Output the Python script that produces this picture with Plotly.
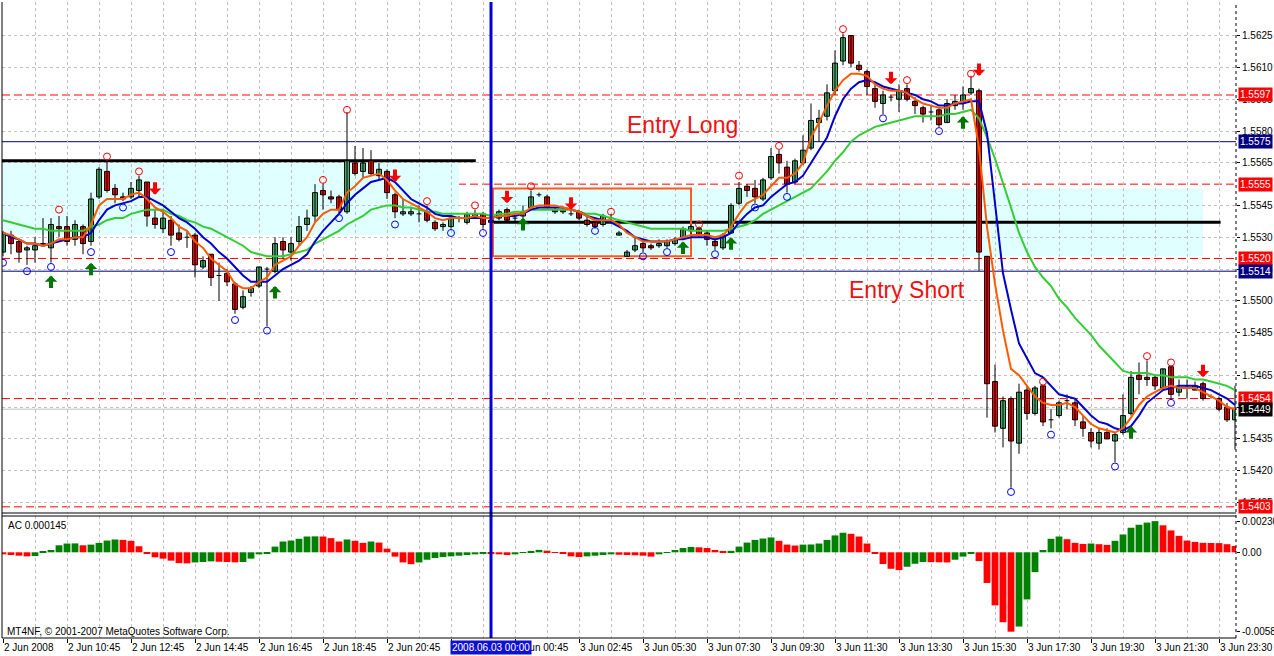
import plotly.graph_objects as go

FONT = "Tahoma, 'Liberation Sans', Arial, sans-serif"

# ---------------- data: M15 bars (index 0..154) ----------------
opens = [
1.5523,1.5531,1.5528,1.5524,1.5524,1.5527,1.5525,1.5535,1.5535,1.5529,
1.5535,1.5528,1.5549,1.5561,1.5553,1.5549,1.5549,1.5552,1.5556,1.5539,
1.5534,1.5538,1.5532,1.5530,1.5531,1.5516,1.5522,1.5512,1.5513,1.5508,
1.5497,1.5504,1.5507,1.5515,1.5514,1.5528,1.5523,1.5528,1.5536,1.5540,
1.5552,1.5549,1.5549,1.5542,1.5565,1.5561,1.5566,1.5559,1.5561,1.5550,
1.5541,1.5541,1.5541,1.5542,1.5537,1.5535,1.5535,1.5539,1.5537,1.5540,
1.5541,1.5538,1.5539,1.5543,1.5539,1.5540,1.5544,1.5550,1.5549,1.5543,
1.5543,1.5541,1.5542,1.5538,1.5537,1.5536,1.5539,1.5531,1.5521,1.5524,
1.5527,1.5526,1.5526,1.5526,1.5527,1.5530,1.5533,1.5534,1.5532,1.5528,
1.5525,1.5532,1.5546,1.5554,1.5553,1.5548,1.5558,1.5569,1.5563,1.5556,
1.5565,1.5572,1.5584,1.5587,1.5599,1.5613,1.5625,1.5611,1.5608,1.5600,
1.5593,1.5596,1.5595,1.5600,1.5594,1.5591,1.5589,1.5590,1.5584,1.5592,
1.5594,1.5598,1.5599,1.5521,1.5462,1.5440,1.5454,1.5433,1.5458,1.5447,
1.5460,1.5444,1.5446,1.5453,1.5452,1.5443,1.5438,1.5433,1.5438,1.5434,
1.5438,1.5447,1.5465,1.5464,1.5464,1.5459,1.5469,1.5457,1.5460,1.5458,
1.5461,1.5455,1.5454,1.5450,1.5444]

highs = [
1.5533,1.5533,1.5529,1.5526,1.5530,1.5539,1.5539,1.5540,1.5540,1.5538,
1.5536,1.5551,1.5563,1.5566,1.5555,1.5551,1.5556,1.5559,1.5556,1.5543,
1.5543,1.5540,1.5536,1.5533,1.5532,1.5521,1.5522,1.5518,1.5515,1.5509,
1.5505,1.5507,1.5516,1.5516,1.5530,1.5530,1.5530,1.5540,1.5543,1.5555,
1.5555,1.5552,1.5550,1.5589,1.5573,1.5572,1.5571,1.5565,1.5562,1.5551,
1.5548,1.5544,1.5545,1.5545,1.5538,1.5537,1.5540,1.5540,1.5542,1.5543,
1.5542,1.5540,1.5543,1.5544,1.5540,1.5545,1.5552,1.5551,1.5550,1.5544,
1.5544,1.5543,1.5543,1.5540,1.5538,1.5541,1.5541,1.5533,1.5524,1.5530,
1.5529,1.5527,1.5529,1.5529,1.5530,1.5535,1.5536,1.5535,1.5533,1.5530,
1.5532,1.5546,1.5556,1.5555,1.5557,1.5558,1.5572,1.5571,1.5566,1.5567,
1.5578,1.5593,1.5590,1.5602,1.5618,1.5626,1.5625,1.5613,1.5609,1.5602,
1.5599,1.5597,1.5602,1.5602,1.5596,1.5592,1.5592,1.5591,1.5595,1.5597,
1.5601,1.5606,1.5600,1.5521,1.5470,1.5455,1.5455,1.5461,1.5460,1.5460,
1.5460,1.5449,1.5453,1.5456,1.5454,1.5446,1.5440,1.5440,1.5440,1.5438,
1.5456,1.5467,1.5471,1.5472,1.5465,1.5468,1.5469,1.5463,1.5463,1.5462,
1.5462,1.5456,1.5455,1.5452,1.5460]

lows = [
1.5521,1.5522,1.5518,1.5517,1.5518,1.5526,1.5518,1.5530,1.5526,1.5526,
1.5522,1.5526,1.5548,1.5551,1.5546,1.5547,1.5548,1.5549,1.5535,1.5534,
1.5532,1.5526,1.5528,1.5525,1.5511,1.5515,1.5507,1.5500,1.5507,1.5494,
1.5496,1.5502,1.5506,1.5488,1.5513,1.5520,1.5519,1.5526,1.5533,1.5537,
1.5543,1.5546,1.5541,1.5541,1.5559,1.5558,1.5559,1.5557,1.5548,1.5539,
1.5540,1.5540,1.5537,1.5537,1.5533,1.5533,1.5534,1.5537,1.5536,1.5539,
1.5534,1.5536,1.5538,1.5537,1.5537,1.5538,1.5544,1.5549,1.5544,1.5541,
1.5541,1.5540,1.5538,1.5535,1.5534,1.5535,1.5538,1.5531,1.5521,1.5523,
1.5523,1.5524,1.5525,1.5525,1.5526,1.5529,1.5531,1.5530,1.5526,1.5524,
1.5524,1.5532,1.5545,1.5549,1.5546,1.5547,1.5557,1.5560,1.5551,1.5555,
1.5564,1.5571,1.5575,1.5585,1.5597,1.5611,1.5610,1.5608,1.5597,1.5591,
1.5588,1.5594,1.5589,1.5594,1.5588,1.5584,1.5585,1.5582,1.5584,1.5590,
1.5590,1.5597,1.5514,1.5445,1.5438,1.5431,1.5412,1.5428,1.5444,1.5446,
1.5441,1.5440,1.5445,1.5449,1.5441,1.5436,1.5431,1.5430,1.5435,1.5424,
1.5437,1.5446,1.5456,1.5460,1.5458,1.5458,1.5454,1.5455,1.5454,1.5458,
1.5453,1.5454,1.5448,1.5443,1.5430]

closes = [
1.5532,1.5527,1.5523,1.5525,1.5526,1.5526,1.5536,1.5534,1.5528,1.5536,
1.5527,1.5548,1.5562,1.5552,1.5550,1.5548,1.5553,1.5557,1.5540,1.5536,
1.5539,1.5531,1.5529,1.5530,1.5517,1.5519,1.5511,1.5512,1.5509,1.5496,
1.5502,1.5506,1.5516,1.5515,1.5527,1.5524,1.5527,1.5535,1.5539,1.5551,
1.5550,1.5548,1.5543,1.5566,1.5560,1.5565,1.5560,1.5562,1.5551,1.5542,
1.5542,1.5542,1.5541,1.5538,1.5534,1.5536,1.5539,1.5539,1.5541,1.5541,
1.5536,1.5537,1.5542,1.5538,1.5539,1.5542,1.5549,1.5550,1.5544,1.5542,
1.5542,1.5541,1.5539,1.5536,1.5535,1.5540,1.5539,1.5532,1.5523,1.5526,
1.5525,1.5525,1.5527,1.5528,1.5529,1.5534,1.5535,1.5531,1.5529,1.5526,
1.5531,1.5545,1.5553,1.5552,1.5549,1.5557,1.5568,1.5565,1.5555,1.5566,
1.5571,1.5585,1.5586,1.5598,1.5612,1.5624,1.5612,1.5609,1.5601,1.5594,
1.5597,1.5596,1.5599,1.5595,1.5592,1.5588,1.5589,1.5583,1.5593,1.5594,
1.5597,1.5600,1.5523,1.5461,1.5441,1.5453,1.5434,1.5457,1.5447,1.5459,
1.5443,1.5444,1.5452,1.5453,1.5444,1.5440,1.5434,1.5438,1.5435,1.5437,
1.5446,1.5464,1.5463,1.5463,1.5460,1.5468,1.5456,1.5459,1.5460,1.5460,
1.5454,1.5455,1.5449,1.5444,1.5449]

ma_orange = [
1.5532,1.5531,1.5529,1.5527,1.5527,1.5526,1.5527,1.5529,1.5529,1.5530,
1.5530,1.5536,1.5545,1.5548,1.5548,1.5548,1.5550,1.5551,1.5548,1.5544,
1.5542,1.5539,1.5535,1.5533,1.5528,1.5525,1.5520,1.5517,1.5514,1.5508,
1.5506,1.5506,1.5509,1.5511,1.5517,1.5519,1.5521,1.5526,1.5530,1.5537,
1.5541,1.5543,1.5543,1.5551,1.5554,1.5558,1.5559,1.5560,1.5557,1.5552,
1.5548,1.5546,1.5544,1.5542,1.5539,1.5538,1.5539,1.5539,1.5539,1.5540,
1.5539,1.5539,
1.5540,1.5540,1.5541,1.5541,1.5544,1.5545,1.5545,1.5545,1.5544,1.5543,
1.5542,1.5540,1.5538,1.5538,1.5538,1.5536,1.5532,1.5530,1.5528,1.5528,
1.5528,1.5528,1.5529,1.5530,1.5531,1.5531,1.5531,1.5530,1.5531,1.5535,
1.5541,1.5546,1.5548,
1.5550,1.5554,1.5558,1.5558,1.5560,1.5565,1.5577,1.5584,1.5592,1.5599,
1.5604,1.5607,1.5607,1.5606,1.5602,1.5600,1.5599,1.5599,1.5598,1.5595,
1.5593,1.5592,1.5591,1.5591,1.5593,1.5594,1.5595,1.5572,
1.5535,1.5508,1.5486,1.5468,1.5465,1.5460,1.5455,1.5452,1.5451,1.5451,
1.5452,1.5450,1.5446,1.5442,1.5440,1.5439,1.5438,1.5440,1.5445,1.5451,
1.5455,1.5457,1.5459,1.5460,1.5459,1.5459,1.5459,1.5457,1.5455,1.5453,
1.5450,1.5449]

ma_blue = [
1.5532,1.5530,1.5529,1.5527,1.5527,1.5526,1.5527,1.5528,1.5529,1.5530,
1.5530,1.5532,1.5538,1.5543,1.5545,1.5546,1.5547,1.5549,1.5549,1.5547,
1.5545,1.5542,1.5539,1.5537,1.5534,1.5530,1.5527,1.5523,1.5520,1.5516,
1.5512,1.5509,1.5509,1.5509,1.5512,1.5515,1.5517,1.5519,1.5522,1.5528,
1.5533,1.5537,1.5541,1.5546,1.5550,1.5553,1.5556,1.5557,1.5558,1.5556,
1.5552,1.5548,1.5546,1.5544,1.5541,1.5540,1.5540,1.5539,1.5539,1.5539,
1.5539,1.5539,
1.5540,1.5540,1.5540,1.5541,1.5543,1.5544,1.5544,1.5544,1.5544,1.5543,
1.5542,1.5540,1.5539,1.5538,1.5537,1.5535,1.5533,1.5530,1.5529,1.5528,
1.5528,1.5528,1.5529,1.5529,1.5530,1.5530,1.5530,1.5529,1.5530,1.5532,
1.5537,1.5541,1.5544,
1.5545,1.5549,1.5552,1.5555,1.5556,1.5559,1.5565,1.5571,1.5577,1.5587,
1.5595,1.5600,1.5603,1.5604,1.5603,1.5601,1.5600,1.5599,1.5598,1.5597,
1.5595,1.5594,1.5592,1.5592,1.5593,1.5593,1.5594,1.5594,
1.5579,1.5545,1.5513,1.5496,1.5480,1.5473,1.5466,1.5464,1.5460,1.5456,
1.5455,1.5454,1.5450,1.5446,1.5443,1.5442,1.5440,1.5439,1.5441,1.5446,
1.5452,1.5455,1.5458,1.5459,1.5460,1.5460,1.5460,1.5459,1.5458,1.5456,
1.5454,1.5451]

ma_green = [
1.5538,1.5537,1.5536,1.5535,1.5534,1.5534,1.5533,1.5533,1.5533,1.5533,
1.5533,1.5535,1.5536,1.5538,1.5539,1.5539,1.5541,1.5542,1.5543,1.5543,
1.5543,1.5541,1.5540,1.5538,1.5537,1.5535,1.5534,1.5532,1.5530,1.5528,
1.5526,1.5523,1.5522,1.5521,1.5521,1.5521,1.5522,1.5523,1.5524,1.5527,
1.5529,1.5531,1.5533,1.5536,1.5538,1.5540,1.5543,1.5544,1.5545,1.5545,
1.5544,1.5544,1.5543,1.5542,1.5542,1.5541,1.5541,1.5541,1.5541,1.5541,
1.5541,1.5540,
1.5541,1.5541,1.5542,1.5542,1.5543,1.5543,1.5543,1.5543,1.5543,1.5543,
1.5542,1.5541,1.5541,1.5540,1.5539,1.5538,1.5537,1.5536,1.5535,1.5534,
1.5534,1.5534,1.5534,1.5534,1.5533,1.5533,1.5533,1.5533,1.5533,1.5534,
1.5535,1.5536,1.5538,
1.5541,1.5543,1.5545,1.5547,1.5549,1.5551,1.5553,1.5557,1.5561,1.5566,
1.5570,1.5575,1.5578,1.5580,1.5582,1.5583,1.5584,1.5585,1.5586,1.5587,
1.5587,1.5587,1.5587,1.5588,1.5588,1.5589,1.5590,1.5586,
1.5577,1.5567,1.5556,1.5544,1.5532,1.5523,1.5516,1.5511,1.5507,1.5501,
1.5497,1.5492,1.5488,1.5484,1.5479,1.5475,1.5471,1.5467,1.5466,1.5466,
1.5466,1.5465,1.5465,1.5464,1.5464,1.5464,1.5463,1.5463,1.5462,1.5461,
1.5460,1.5458]

ac_values = [
-0.00015,-0.00020,-0.00025,-0.00030,-0.00028,0.00005,0.00017,0.00052,0.00065,0.00066,
0.00052,0.00057,0.00070,0.00087,0.00095,0.00092,0.00085,0.00045,-0.00010,-0.00037,
-0.00047,-0.00062,-0.00080,-0.00082,-0.00075,-0.00072,-0.00067,-0.00070,-0.00072,-0.00074,
-0.00072,-0.00047,-0.00015,-0.00007,0.00042,0.00080,0.00087,0.00100,0.00117,0.00118,
0.00117,0.00105,0.00080,0.00095,0.00085,0.00070,0.00080,0.00072,0.00027,-0.00032,
-0.00075,-0.00088,-0.00075,-0.00055,-0.00042,-0.00035,-0.00030,-0.00025,-0.00020,-0.00015,
-0.00012,-0.00013,-0.00015,-0.00020,-0.00015,-0.00005,0.00010,0.00018,0.00012,-0.00005,
-0.00010,-0.00030,-0.00035,-0.00030,-0.00025,-0.00020,-0.00015,-0.00018,-0.00020,-0.00022,
-0.00025,-0.00032,-0.00015,-0.00003,0.00017,0.00032,0.00040,0.00037,0.00032,0.00017,
0.00010,0.00011,0.00042,0.00072,0.00092,0.00102,0.00110,0.00085,0.00057,0.00050,
0.00057,0.00058,0.00065,0.00092,0.00125,0.00145,0.00137,0.00117,0.00065,-0.00012,
-0.00087,-0.00122,-0.00132,-0.00107,-0.00085,-0.00072,-0.00073,-0.00074,-0.00075,-0.00055,
-0.00032,-0.00010,-0.00065,-0.00227,-0.00393,-0.00518,-0.00588,-0.00550,-0.00349,-0.00147,
0.00017,0.00100,0.00117,0.00097,0.00070,0.00062,0.00065,0.00060,0.00055,0.00085,
0.00132,0.00182,0.00204,0.00220,0.002309,0.00200,0.00162,0.00122,0.00087,0.00077,
0.00070,0.00069,0.00068,0.00060,0.00047]

fractal_up_bar = [7, 13, 17, 40, 43, 53, 59, 66, 76, 87, 92, 97, 105, 113, 121, 130, 143, 146]
fractal_up_price = [1.5543, 1.5568, 1.5561, 1.5557, 1.5590, 1.5547, 1.5545, 1.5554, 1.5542, 1.5536,
                    1.5559, 1.5573, 1.5628, 1.5604, 1.5607, 1.5462, 1.5474, 1.5471]
fractal_dn_bar = [0, 3, 6, 11, 15, 21, 29, 33, 42, 49, 56, 60, 74, 80, 83, 89, 94, 98, 110, 117, 126, 131, 139, 146]
fractal_dn_price = [1.5518, 1.5514, 1.5516, 1.5523, 1.5544, 1.5523, 1.5491, 1.5486, 1.5539, 1.5536,
                    1.5532, 1.5532, 1.5533, 1.5521, 1.5523, 1.5522, 1.5544, 1.5549, 1.5586, 1.5580,
                    1.5410, 1.5437, 1.5422, 1.5452]

sell_arrow_bar = [19, 49, 63, 71, 111, 122, 150]
sell_arrow_price = [1.5550, 1.5556, 1.5546, 1.5543, 1.5602, 1.5606, 1.5464]
buy_arrow_bar = [6, 11, 34, 65, 85, 91, 120, 141]
buy_arrow_price = [1.5512, 1.5518, 1.5507, 1.5539, 1.5528, 1.5530, 1.5587, 1.5441]

time_tick_bars = list(range(0, 153, 8))
time_labels = ["2 Jun 2008", "2 Jun 10:45", "2 Jun 12:45", "2 Jun 14:45", "2 Jun 16:45",
               "2 Jun 18:45", "2 Jun 20:45", "2 Jun 22:45", "3 Jun 00:45", "3 Jun 02:45",
               "3 Jun 05:30", "3 Jun 07:30", "3 Jun 09:30", "3 Jun 11:30", "3 Jun 13:30",
               "3 Jun 15:30", "3 Jun 17:30", "3 Jun 19:30", "3 Jun 21:30", "3 Jun 23:30"]
cross_bar = 61
cross_label = "2008.06.03 00:00"

price_ticks = [1.5625, 1.5610, 1.5595, 1.5580, 1.5565, 1.5545, 1.5530, 1.5515,
               1.5500, 1.5485, 1.5465, 1.5450, 1.5435, 1.5420, 1.5405]
ac_ticks = [0.002309, 0.0, -0.00588]
ac_ticktext = ["0.002309", "0.00", "-0.00588"]

red_levels = [1.5597, 1.5555, 1.5520, 1.5454, 1.5403]
blue_levels = [1.5575, 1.5514]
bid_level = 1.5449

zone_start = [-0.125, 61.25]
zone_end = [57.0, 150.0]
zone_low = [1.5531, 1.5521]
zone_high = [1.5565, 1.5553]
level_start = [-0.125, 61.25]
level_end = [59.1, 152.2]
level_price = [1.5566, 1.5537]
box_start, box_end, box_low, box_high = 61.25, 86.0, 1.5521, 1.5553

entry_texts = ["Entry Long", "Entry Short"]
entry_bar = [84.9, 113.0]
entry_price = [1.5583, 1.5505]

# ---------------- build figure ----------------
bars = list(range(len(opens)))
fig = go.Figure()

wx, wy = [], []
ux, ub, uh, dx, db, dh, jx, jy = [], [], [], [], [], [], [], []
for i, o, h, l, c in zip(bars, opens, highs, lows, closes):
    wx += [i, i, None]
    wy += [l, h, None]
    if c > o:
        ux.append(i); ub.append(o); uh.append(c - o)
    elif c < o:
        dx.append(i); db.append(c); dh.append(o - c)
    else:
        jx += [i - 0.3, i + 0.3, None]
        jy += [o, o, None]

fig.add_trace(go.Scatter(x=wx, y=wy, mode="lines", line=dict(color="black", width=1),
                         hoverinfo="skip"))
fig.add_trace(go.Bar(x=ux, y=uh, base=ub, width=0.62,
                     marker=dict(color="#3cb371", line=dict(color="black", width=1))))
fig.add_trace(go.Bar(x=dx, y=dh, base=db, width=0.62,
                     marker=dict(color="#ff0000", line=dict(color="black", width=1))))
fig.add_trace(go.Scatter(x=jx, y=jy, mode="lines", line=dict(color="black", width=1)))

fig.add_trace(go.Scatter(x=bars, y=ma_green, mode="lines", line=dict(color="#33cc33", width=2)))
fig.add_trace(go.Scatter(x=bars, y=ma_blue, mode="lines", line=dict(color="#0000cc", width=2)))
fig.add_trace(go.Scatter(x=bars, y=ma_orange, mode="lines", line=dict(color="#ff5a00", width=2)))

fig.add_trace(go.Scatter(x=fractal_up_bar, y=fractal_up_price, mode="markers",
                         marker=dict(symbol="circle-open", size=7, color="#ff0000",
                                     line=dict(width=1))))
fig.add_trace(go.Scatter(x=fractal_dn_bar, y=fractal_dn_price, mode="markers",
                         marker=dict(symbol="circle-open", size=7, color="#0000ff",
                                     line=dict(width=1))))

ac_colors = []
for k, v in enumerate(ac_values):
    ac_colors.append("#008000" if k > 0 and v > ac_values[k - 1] else "#ff0000")
fig.add_trace(go.Bar(x=bars, y=ac_values, width=0.85, marker=dict(color=ac_colors, line=dict(width=0)),
                     xaxis="x2", yaxis="y2"))

shapes = []
for x0, x1, lo, hi in zip(zone_start, zone_end, zone_low, zone_high):
    shapes.append(dict(type="rect", xref="x", yref="y", x0=x0, x1=x1, y0=lo, y1=hi,
                       fillcolor="#e0ffff", line=dict(width=0), layer="below"))
for p in red_levels:
    shapes.append(dict(type="line", xref="paper", yref="y", x0=0, x1=1, y0=p, y1=p,
                       line=dict(color="#ff0000", width=1, dash="8px,4px"), layer="between"))
for p in blue_levels:
    shapes.append(dict(type="line", xref="paper", yref="y", x0=0, x1=1, y0=p, y1=p,
                       line=dict(color="#000080", width=1), layer="between"))
shapes.append(dict(type="line", xref="paper", yref="y", x0=0, x1=1, y0=bid_level, y1=bid_level,
                   line=dict(color="#c0c0c0", width=1), layer="between"))
for x0, x1, p in zip(level_start, level_end, level_price):
    shapes.append(dict(type="line", xref="x", yref="y", x0=x0, x1=x1, y0=p, y1=p,
                       line=dict(color="black", width=3), layer="between"))
shapes.append(dict(type="rect", xref="x", yref="y", x0=box_start, x1=box_end, y0=box_low, y1=box_high,
                   line=dict(color="#ff5a1f", width=2), layer="between"))
shapes.append(dict(type="line", xref="x", yref="paper", x0=cross_bar, x1=cross_bar, y0=0, y1=1,
                   line=dict(color="#0000dd", width=3), layer="above"))
# panel frames
MAIN_BOTTOM = (638 - 513) / 636
AC_TOP = (638 - 516) / 636
for yy in (MAIN_BOTTOM, AC_TOP, 0):
    shapes.append(dict(type="line", xref="paper", yref="paper", x0=0, x1=1, y0=yy, y1=yy,
                       line=dict(color="black", width=1)))
shapes.append(dict(type="line", xref="paper", yref="paper", x0=0, x1=0, y0=0, y1=1,
                   line=dict(color="black", width=1)))
shapes.append(dict(type="line", xref="paper", yref="paper", x0=1, x1=1, y0=0, y1=1,
                   line=dict(color="black", width=1, dash="dot")))

ann = []
for b, p in zip(sell_arrow_bar, sell_arrow_price):
    ann.append(dict(x=b, y=p, xref="x", yref="y", text="", showarrow=True, ax=0, ay=-14,
                    arrowhead=1, arrowsize=0.52, arrowwidth=4, arrowcolor="#ff0000"))
for b, p in zip(buy_arrow_bar, buy_arrow_price):
    ann.append(dict(x=b, y=p, xref="x", yref="y", text="", showarrow=True, ax=0, ay=14,
                    arrowhead=1, arrowsize=0.52, arrowwidth=4, arrowcolor="#007700"))
for t, b, p in zip(entry_texts, entry_bar, entry_price):
    ann.append(dict(x=b, y=p, xref="x", yref="y", text=t, showarrow=False,
                    font=dict(family="'Liberation Sans', Arial, sans-serif", size=23, color="#f01010")))
for b, t in zip(time_tick_bars, time_labels):
    ann.append(dict(x=b, y=0, xref="x2", yref="paper", text=t, showarrow=False, xanchor="left",
                    yanchor="middle", yshift=-9, xshift=-1, font=dict(size=10, color="black")))
ann.append(dict(x=cross_bar, y=0, xref="x2", yref="paper", text=cross_label, showarrow=False,
                xanchor="center", yanchor="middle", yshift=-9, bgcolor="#1010d0", borderpad=1,
                font=dict(size=10, color="white")))
tag_prices = red_levels + blue_levels + [bid_level]
tag_colors = ["#ff0000"] * len(red_levels) + ["#000080"] * len(blue_levels) + ["#000000"]
for p, c in zip(tag_prices, tag_colors):
    ann.append(dict(x=1, y=p, xref="paper", yref="y", text=f"{p:.4f}", showarrow=False,
                    xanchor="left", yanchor="middle", xshift=2, bgcolor=c, borderpad=1,
                    font=dict(size=10, color="white")))
ann.append(dict(x=0, y=(638 - 525) / 636, xref="paper", yref="paper", text="AC 0.000145",
                showarrow=False, xanchor="left", yanchor="middle", xshift=4,
                font=dict(size=10, color="black")))
ann.append(dict(x=0, y=(638 - 631) / 636, xref="paper", yref="paper",
                text="MT4NF, © 2001-2007 MetaQuotes Software Corp.",
                showarrow=False, xanchor="left", yanchor="middle", xshift=3,
                font=dict(size=10, color="black")))

grid = dict(showgrid=True, gridcolor="#c0c0c0", griddash="3px,3px", gridwidth=1, automargin=False)
fig.update_layout(
    width=1274, height=656, margin=dict(l=2, r=38, t=2, b=18, autoexpand=False),
    paper_bgcolor="white", plot_bgcolor="white", showlegend=False, barmode="overlay",
    font=dict(family=FONT, size=10, color="black"),
    shapes=shapes, annotations=ann,
    xaxis=dict(domain=[0, 1], range=[-0.125, 154.125], anchor="y", showticklabels=False,
               tick0=0, dtick=8, ticks="", zeroline=False,
               minor=dict(dtick=4, showgrid=True, gridcolor="#c0c0c0", griddash="3px,3px"), **grid),
    xaxis2=dict(domain=[0, 1], matches="x", anchor="y2", showticklabels=False,
                tick0=0, dtick=8, ticks="outside", ticklen=4, tickcolor="black", zeroline=False,
                minor=dict(dtick=4, showgrid=True, gridcolor="#c0c0c0", griddash="3px,3px"), **grid),
    yaxis=dict(domain=[MAIN_BOTTOM, 1], range=[1.54001, 1.56408], side="right",
               tickmode="array", tickvals=price_ticks, ticktext=[f"{v:.4f}" for v in price_ticks],
               ticks="outside", ticklen=3, tickcolor="black", zeroline=False,
               tickfont=dict(size=10), **grid),
    yaxis2=dict(domain=[0, AC_TOP], range=[-0.006348, 0.002689], side="right",
                tickmode="array", tickvals=ac_ticks, ticktext=ac_ticktext,
                ticks="outside", ticklen=3, tickcolor="black", showgrid=False, zeroline=False,
                automargin=False, tickfont=dict(size=10)),
)

fig.write_html("out.html", config={"displayModeBar": False},
               post_script="document.body.style.margin='0';document.body.style.overflow='hidden';")
